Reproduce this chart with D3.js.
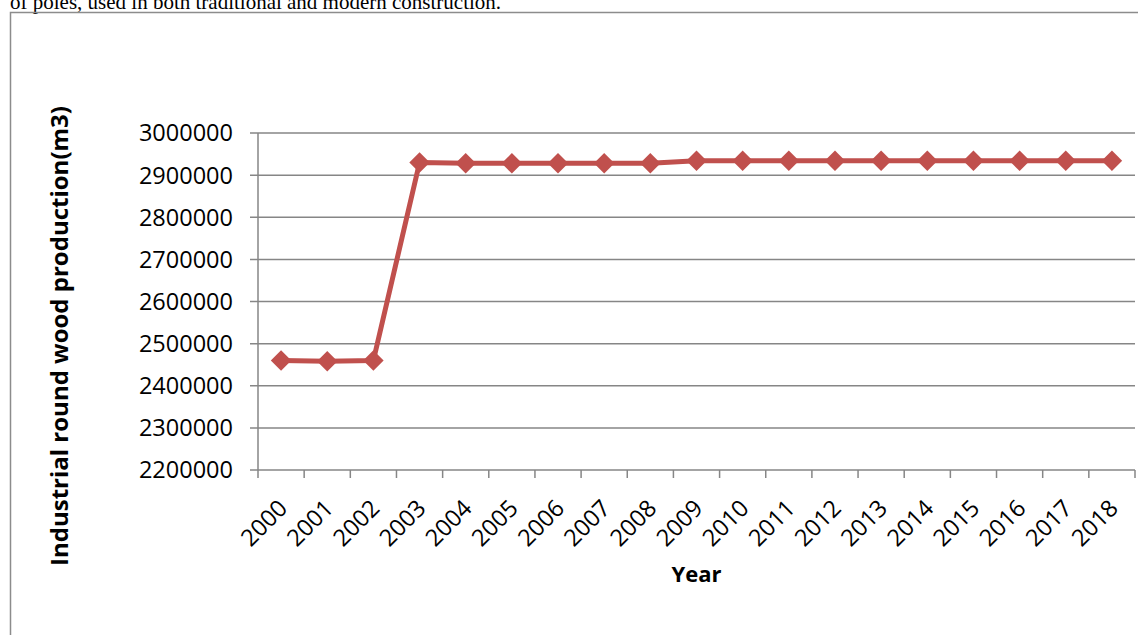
<!DOCTYPE html>
<html><head><meta charset="utf-8">
<script src="https://cdn.jsdelivr.net/npm/d3@7"></script>
<style>body{margin:0;background:#fff;overflow:hidden}svg{display:block}</style>
</head><body>
<script>
const years = ["2000","2001","2002","2003","2004","2005","2006","2007","2008","2009","2010","2011","2012","2013","2014","2015","2016","2017","2018"];
const production = [2460000,2458000,2460000,2930000,2928000,2928000,2928000,2928000,2928000,2934000,2934000,2934000,2934000,2934000,2934000,2934000,2934000,2934000,2934000];
const yTicks = [2200000,2300000,2400000,2500000,2600000,2700000,2800000,2900000,3000000];
const yTitle = "Industrial round wood production(m3)";
const xTitle = "Year";
const topText = "of poles, used in both traditional and modern construction.";

const W = 1138, H = 635;
const svg = d3.select("body").append("svg").attr("width", W).attr("height", H);

// caption text cut at top
svg.append("text").attr("x", 10).attr("y", 8.5)
  .attr("font-family", "Liberation Serif, Times New Roman, serif").attr("font-size", 21)
  .attr("fill", "#000").text(topText);

// chart frame
svg.append("rect").attr("x", 10.5).attr("y", 12.5).attr("width", 1140).attr("height", 640)
  .attr("fill", "none").attr("stroke", "#8c8c8c").attr("stroke-width", 1.5);

const m = {l: 258, r: 1135, t: 133, b: 470};
const x = d3.scaleBand().domain(years).range([m.l, m.r]);
const y = d3.scaleLinear().domain([2200000, 3000000]).range([m.b, m.t]);

// gridlines
svg.append("g").selectAll("line").data(yTicks).join("line")
  .attr("x1", m.l - 8).attr("x2", m.r).attr("y1", d => y(d)).attr("y2", d => y(d))
  .attr("stroke", "#868686").attr("stroke-width", 1.5);

// y axis line
svg.append("line").attr("x1", m.l).attr("x2", m.l).attr("y1", m.t).attr("y2", m.b)
  .attr("stroke", "#868686").attr("stroke-width", 1.5);

// x ticks
const xTickPos = years.map(d => x(d)).concat([m.r]);
svg.append("g").selectAll("line").data(xTickPos).join("line")
  .attr("x1", d => d).attr("x2", d => d).attr("y1", m.b).attr("y2", m.b + 8)
  .attr("stroke", "#868686").attr("stroke-width", 1.5);

// y tick labels
svg.append("g").selectAll("text").data(yTicks).join("text")
  .attr("x", m.l - 25).attr("y", d => y(d)).attr("dy", "0.36em")
  .attr("text-anchor", "end").attr("font-family", "Open Sans, sans-serif").attr("font-size", 23.5)
  .attr("fill", "#000").text(d => d3.format("d")(d));

// x tick labels
svg.append("g").selectAll("text").data(years).join("text")
  .attr("transform", d => `translate(${x(d) + x.bandwidth()/2 - 4},${m.b + 28}) rotate(-45)`)
  .attr("text-anchor", "end").attr("dy", "0.7em")
  .attr("font-family", "Open Sans, sans-serif").attr("font-size", 23.5)
  .attr("fill", "#000").text(d => d);

// titles
svg.append("text").attr("transform", `translate(68,336) rotate(-90)`)
  .attr("text-anchor", "middle").attr("font-family", "Open Sans, sans-serif").attr("font-weight", "bold")
  .attr("font-size", 24).attr("fill", "#000").text(yTitle);
svg.append("text").attr("x", (m.l + m.r)/2).attr("y", 582)
  .attr("text-anchor", "middle").attr("font-family", "Open Sans, sans-serif").attr("font-weight", "bold")
  .attr("font-size", 22).attr("fill", "#000").text(xTitle);

// line
const line = d3.line().x((d, i) => x(years[i]) + x.bandwidth()/2).y(d => y(d));
svg.append("path").datum(production).attr("d", line)
  .attr("fill", "none").attr("stroke", "#C0504D").attr("stroke-width", 5).attr("stroke-linejoin", "round");

// markers (diamonds)
svg.append("g").selectAll("path").data(production).join("path")
  .attr("transform", (d, i) => `translate(${x(years[i]) + x.bandwidth()/2},${y(d)}) rotate(45)`)
  .attr("d", d3.symbol().type(d3.symbolSquare).size(210))
  .attr("fill", "#C0504D");
</script>
</body></html>
